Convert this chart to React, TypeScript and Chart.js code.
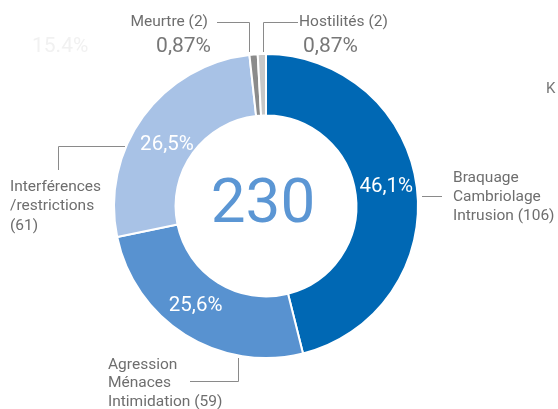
import React, { useEffect, useRef } from "react";
import { Chart, registerables } from "chart.js";

Chart.register(...registerables);

const categories = [
  "Braquage\nCambriolage\nIntrusion",
  "Agression\nMénaces\nIntimidation",
  "Interférences\n/restrictions",
  "Meurtre",
  "Hostilités",
];
const values = [106, 59, 61, 2, 2];
const percentLabels = ["46,1%", "25,6%", "26,5%", "0,87%", "0,87%"];
const colors = ["#0068b4", "#5892d0", "#a8c2e6", "#8b8b8b", "#c8c8c8"];
const totalLabel = "230";

const FONT = "Roboto, 'Noto Sans', sans-serif";

const annotations = {
  id: "annotations",
  afterDraw(chart: any) {
    const ctx = chart.ctx as CanvasRenderingContext2D;
    const meta = chart.getDatasetMeta(0);
    const arcs = meta.data as any[];
    const cx = arcs[0].x;
    const cy = arcs[0].y;
    ctx.save();

    // ghost text
    ctx.fillStyle = "#f1f1f1";
    ctx.font = `21px ${FONT}`;
    ctx.textAlign = "left";
    ctx.textBaseline = "middle";
    ctx.fillText("15.4%", 32, 47);

    // stray K
    ctx.fillStyle = "#777777";
    ctx.font = `15px ${FONT}`;
    ctx.fillText("K", 546, 89);

    // center total
    ctx.fillStyle = "#5b96d4";
    ctx.font = `62px ${FONT}`;
    ctx.textAlign = "center";
    ctx.fillText(totalLabel, cx - 3, cy);

    // inside percents
    const offs = [
      [0, -4],
      [-6, -3],
      [-1, 10],
    ];
    ctx.fillStyle = "#ffffff";
    ctx.font = `20.5px ${FONT}`;
    for (let i = 0; i < 3; i++) {
      const p = arcs[i].tooltipPosition();
      ctx.fillText(percentLabels[i], p.x + offs[i][0], p.y + offs[i][1]);
    }

    // leader lines
    ctx.strokeStyle = "#8a8a8a";
    ctx.lineWidth = 1;
    const lines = [
      [[217, 22.5], [249.5, 22.5], [249.5, 52]],
      [[263.5, 52], [263.5, 22.5], [298, 22.5]],
      [[125, 146.5], [58.5, 146.5], [58.5, 170]],
      [[422, 196.5], [442, 196.5]],
      [[238.5, 358], [238.5, 381.5], [190, 381.5]],
    ];
    for (const l of lines) {
      ctx.beginPath();
      ctx.moveTo(l[0][0], l[0][1]);
      for (let k = 1; k < l.length; k++) ctx.lineTo(l[k][0], l[k][1]);
      ctx.stroke();
    }

    // outer labels
    ctx.fillStyle = "#6e6e6e";
    ctx.font = `15.5px ${FONT}`;
    const drawLines = (txt: string, x: number, y: number, align: CanvasTextAlign, lh = 19.5) => {
      ctx.textAlign = align;
      txt.split("\n").forEach((t, k) => ctx.fillText(t, x, y + k * lh));
    };
    drawLines(`${categories[3]} (${values[3]})`, 208, 22, "right");
    drawLines(`${categories[4]} (${values[4]})`, 299, 22, "left");
    drawLines(`${categories[2]}\n(${values[2]})`, 10, 187, "left");
    drawLines(`${categories[0]} (${values[0]})`, 453, 178, "left", 19);
    drawLines(`${categories[1]} (${values[1]})`, 108, 365, "left", 18.5);

    ctx.fillStyle = "#777777";
    ctx.font = `21px ${FONT}`;
    ctx.textAlign = "right";
    ctx.fillText(percentLabels[3], 211, 47);
    ctx.textAlign = "left";
    ctx.fillText(percentLabels[4], 303, 47);

    ctx.restore();
  },
};

export default function App() {
  const ref = useRef<HTMLCanvasElement>(null);
  useEffect(() => {
    document.body.style.margin = "0";
    const chart = new Chart(ref.current!, {
      type: "doughnut",
      data: {
        labels: categories,
        datasets: [
          {
            data: values,
            backgroundColor: colors,
            borderColor: "#ffffff",
            borderWidth: 2,
          },
        ],
      },
      options: {
        responsive: false,
        animation: false,
        radius: 152,
        cutout: "59.5%",
        layout: { padding: { left: 0, right: 26, top: 3, bottom: 0 } },
        plugins: {
          legend: { display: false },
          tooltip: { enabled: false },
        },
      },
      plugins: [annotations],
    });
    return () => chart.destroy();
  }, []);
  return (
    <div style={{ position: "absolute", left: 0, top: 0, width: 558, height: 409, background: "#fff" }}>
      <canvas ref={ref} width={558} height={409} />
    </div>
  );
}
